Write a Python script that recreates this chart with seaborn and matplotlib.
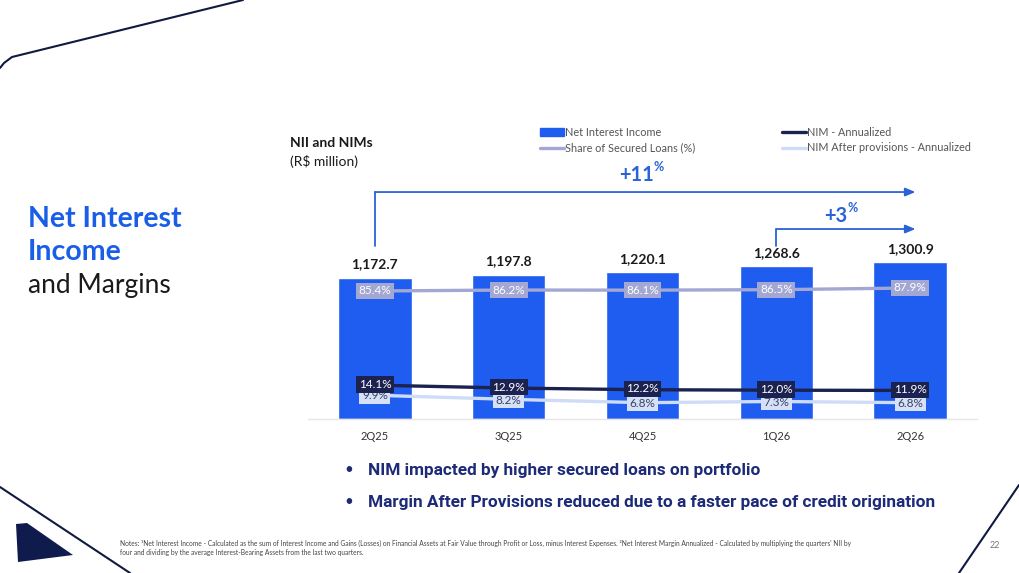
import numpy as np
import pandas as pd
import seaborn as sns
import matplotlib.pyplot as plt
from matplotlib.lines import Line2D
from matplotlib.patches import Patch, Polygon

# chart data
quarters = ["2Q25", "3Q25", "4Q25", "1Q26", "2Q26"]
nii = [1172.7, 1197.8, 1220.1, 1268.6, 1300.9]
secured_share = [85.4, 86.2, 86.1, 86.5, 87.9]
nim = [14.1, 12.9, 12.2, 12.0, 11.9]
nim_after = [9.9, 8.2, 6.8, 7.3, 6.8]

df = pd.DataFrame({"quarter": quarters, "nii": nii, "secured": secured_share,
                   "nim": nim, "nim_after": nim_after})

# colours
BLUE = "#1f5cf0"
NAVY = "#1b2250"
LIGHT = "#cfdcf7"
GREYLAV = "#a2a7d3"
DARK = "#1a1a1a"

W, H = 1019, 573
sns.set_style("white")
plt.rcParams['font.family'] = ['Lato', 'DejaVu Sans']

fig = plt.figure(figsize=(W / 100, H / 100), dpi=100)


def px(x, y):
    # pixel position -> figure fraction
    return x / W, 1 - y / H


ax = fig.add_axes([308 / W, (H - 419) / H, (977 - 308) / W, (419 - 130) / H])
sns.barplot(data=df, x="quarter", y="nii", color=BLUE, saturation=1, width=0.55, ax=ax)
ax.set_xlim(-0.5, 4.5)
ax.set_ylim(0, 2399)
ax.set_xlabel("")
ax.set_ylabel("")
ax.set_yticks([])
ax.tick_params(axis="x", length=0, pad=9, labelsize=8, labelcolor="#333333")
for s in ["top", "left", "right"]:
    ax.spines[s].set_visible(False)
ax.spines["bottom"].set_color("#e6e6e6")
ax.spines["bottom"].set_linewidth(1)

for i, v in enumerate(nii):
    ax.text(i, v + 60, f"{v:,.1f}", ha="center", va="bottom", fontsize=10,
            fontweight="bold", color=DARK)

# NIM lines on their own scale
ax2 = ax.twinx()
ax2.set_ylim(0, 120.4)
sns.lineplot(data=df, x="quarter", y="nim_after", color=LIGHT, lw=2.4, ax=ax2)
sns.lineplot(data=df, x="quarter", y="nim", color=NAVY, lw=2.4, ax=ax2)

# secured loans on a third scale
ax3 = ax.twinx()
ax3.set_ylim(-21.3, 219.6)
sns.lineplot(data=df, x="quarter", y="secured", color=GREYLAV, lw=2.4, ax=ax3)

for a in (ax2, ax3):
    a.set_ylabel("")
    a.set_yticks([])
    for s in a.spines.values():
        s.set_visible(False)

box_kw = dict(ha="center", va="center", fontsize=8.5)
for i in range(len(quarters)):
    ax3.text(i, secured_share[i], f"{secured_share[i]:.1f}%", color="white",
             bbox=dict(boxstyle="square,pad=0.22", fc=GREYLAV, ec="none"), **box_kw)
    ax2.text(i, nim_after[i] - 0.3, f"{nim_after[i]:.1f}%", color="#3a4163",
             bbox=dict(boxstyle="square,pad=0.22", fc="#d6e1f7", ec="none"), **box_kw)
    ax2.text(i, nim[i] + 0.3, f"{nim[i]:.1f}%", color="white",
             bbox=dict(boxstyle="square,pad=0.22", fc=NAVY, ec="none"), **box_kw)

# growth brackets
arrow_kw = dict(arrowstyle="-|>,head_length=0.6,head_width=0.25", color="#2a63d8", lw=1.3,
                shrinkA=0, shrinkB=0)
ax.plot([0, 0], [1436, 1884], color="#2a63d8", lw=1.3)
ax.annotate("", xy=(4.04, 1884), xytext=(0, 1884), arrowprops=arrow_kw)
ax.plot([3, 3], [1436, 1577], color="#2a63d8", lw=1.3)
ax.annotate("", xy=(4.04, 1577), xytext=(3, 1577), arrowprops=arrow_kw)

fig.text(*px(654, 175), "+11", ha="right", va="center", fontsize=14.5, fontweight="bold", color="#2a63d8")
fig.text(*px(654, 167), "%", ha="left", va="center", fontsize=9, fontweight="bold", color="#2a63d8")
fig.text(*px(847, 216), "+3", ha="right", va="center", fontsize=14.5, fontweight="bold", color="#2a63d8")
fig.text(*px(847, 208), "%", ha="left", va="center", fontsize=9, fontweight="bold", color="#2a63d8")

# legends
leg_kw = dict(frameon=False, fontsize=7.8, handlelength=2.2, handletextpad=0.15,
              labelspacing=0.4, labelcolor="#555555", borderaxespad=0, borderpad=0)
fig.legend(handles=[Patch(color=BLUE, label="Net Interest Income"),
                    Line2D([], [], color=GREYLAV, lw=2.4, label="Share of Secured Loans (%)")],
           loc="upper left", bbox_to_anchor=px(540, 127), **leg_kw)
fig.legend(handles=[Line2D([], [], color=NAVY, lw=2.4, label="NIM - Annualized"),
                    Line2D([], [], color=LIGHT, lw=2.4, label="NIM After provisions - Annualized")],
           loc="upper left", bbox_to_anchor=px(782, 127), **leg_kw)

fig.text(*px(290, 143), "NII and NIMs", ha="left", va="center", fontsize=10, fontweight="bold", color=DARK)
fig.text(*px(290, 162), "(R$ million)", ha="left", va="center", fontsize=10, color=DARK)

# slide title
fig.text(*px(28, 219), "Net Interest", ha="left", va="center", fontsize=20.5, fontweight="bold", color="#1a5ee8")
fig.text(*px(28, 252), "Income", ha="left", va="center", fontsize=20.5, fontweight="bold", color="#1a5ee8")
fig.text(*px(28, 285), "and Margins", ha="left", va="center", fontsize=19, color=DARK)

# bullets
for yy, txt in [(470, "NIM impacted by higher secured loans on portfolio"),
                (502, "Margin After Provisions reduced due to a faster pace of credit origination")]:
    fig.text(*px(344, yy), "•", ha="left", va="center", fontsize=11, color="#1c2a78")
    fig.text(*px(368, yy), txt, ha="left", va="center", fontsize=12.4, fontweight="bold",
             color="#1c2a78", family=["Roboto", "DejaVu Sans"])

notes = ("Notes: \u00b9Net Interest Income - Calculated as the sum of Interest Income and Gains (Losses) on Financial "
         "Assets at Fair Value through Profit or Loss, minus Interest Expenses. \u00b2Net Interest Margin Annualized - "
         "Calculated by multiplying the quarters' NII by\nfour and dividing by the average Interest-Bearing Assets "
         "from the last two quarters.")
fig.text(*px(120, 548), notes, ha="left", va="center", fontsize=4.8, color="#444444", linespacing=1.25)
fig.text(*px(1000, 546), "22", ha="right", va="center", fontsize=6.5, color="#777777")

# decorative lines
deco = "#101a40"
for xs, ys in [([0, 4, 12, 243], [68, 63, 57, 0]),
               ([0, 130], [487, 573]),
               ([959, 1019], [573, 485])]:
    fig.add_artist(Line2D([x / W for x in xs], [1 - y / H for y in ys], color=deco, lw=1.5,
                          transform=fig.transFigure))
fig.add_artist(Polygon([px(16, 524), px(27, 523), px(73, 555), px(18, 562)], closed=True,
                       fc="#0f1b4d", ec="none", transform=fig.transFigure))

fig.savefig("out.png", dpi=100)
